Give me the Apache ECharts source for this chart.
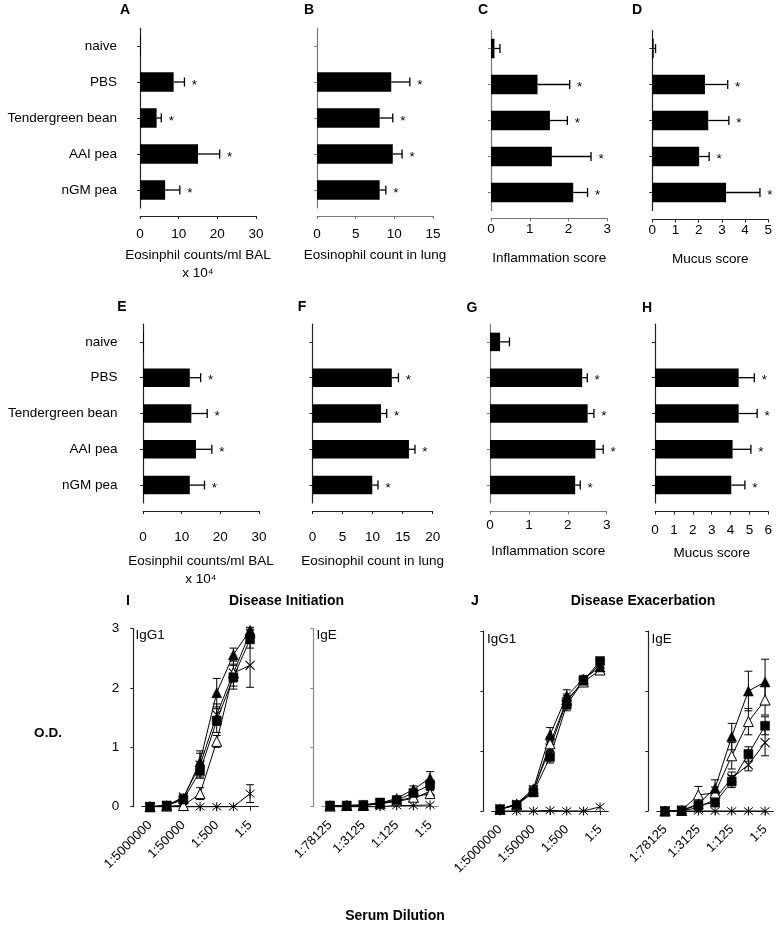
<!DOCTYPE html>
<html><head><meta charset="utf-8">
<script src="https://cdn.jsdelivr.net/npm/echarts@6/dist/echarts.min.js"></script>
<style>html,body{margin:0;padding:0;background:#fff}#c{width:780px;height:926px}</style>
</head><body><div id="c"></div>
<script>
const FONT = '"Liberation Sans", Arial, Helvetica, sans-serif';

// ---------- DATA ----------
const categories = ['naive', 'PBS', 'Tendergreen bean', 'AAI pea', 'nGM pea'];
const sigFlags = [0, 1, 1, 1, 1];

// Disease initiation (A-D)
const aMean = [0.25, 8.7, 4.3, 15.0, 6.5];
const aSem  = [0, 2.8, 1.2, 5.6, 3.8];
const bMean = [0, 9.6, 8.1, 9.8, 8.1];
const bSem  = [0, 2.4, 1.7, 1.2, 0.8];
const cMean = [0.09, 1.2, 1.52, 1.57, 2.12];
const cSem  = [0.14, 0.83, 0.45, 1.01, 0.37];
const dMean = [0.06, 2.27, 2.41, 2.02, 3.18];
const dSem  = [0.08, 0.98, 0.89, 0.43, 1.46];
// Disease exacerbation (E-H)
const eMean = [0.25, 12.1, 12.5, 13.7, 12.1];
const eSem  = [0, 2.8, 4.1, 4.1, 3.8];
const fMean = [0, 13.2, 11.4, 16.05, 9.95];
const fSem  = [0, 1.1, 0.95, 1.0, 0.95];
const gMean = [0.26, 2.37, 2.51, 2.71, 2.19];
const gSem  = [0.24, 0.13, 0.16, 0.2, 0.13];
const hMean = [0, 4.43, 4.43, 4.11, 4.04];
const hSem  = [0, 0.83, 0.98, 0.97, 0.72];

// Serum dilutions
const dilIgG1 = ['1:5000000', '1:500000', '1:50000', '1:5000', '1:500', '1:50', '1:5'];
const dilIgE  = ['1:78125', '1:15625', '1:3125', '1:625', '1:125', '1:25', '1:5'];
const odTicks = [0, 1, 2, 3];

// I: Disease initiation, IgG1
const iG1Square = [0, 0.02, 0.12, 0.60, 1.45, 2.18, 2.82];
const iG1SquareSem = [0, 0, 0.03, 0.12, 0.2, 0.2, 0.15];
const iG1TriFill = [0, 0.02, 0.14, 0.76, 1.92, 2.56, 2.97];
const iG1TriFillSem = [0, 0, 0.04, 0.18, 0.24, 0.11, 0.05];
const iG1TriOpen = [0, 0.01, 0.02, 0.22, 1.10, 2.25, 2.93];
const iG1TriOpenSem = [0, 0, 0.02, 0.1, 0.1, 0.15, 0.06];
const iG1Cross = [0, 0.02, 0.16, 0.70, 1.55, 2.25, 2.38];
const iG1CrossSem = [0, 0, 0.05, 0.2, 0.18, 0.22, 0.37];
const iG1Star = [0, 0, 0, 0, 0, 0, 0.22];
const iG1StarSem = [0, 0, 0, 0, 0, 0, 0.15];
// I: Disease initiation, IgE
const iESquare = [0.02, 0.02, 0.03, 0.07, 0.11, 0.23, 0.37];
const iESquareSem = [0, 0, 0, 0.02, 0.03, 0.05, 0.08];
const iETriFill = [0.02, 0.02, 0.03, 0.06, 0.14, 0.29, 0.48];
const iETriFillSem = [0, 0, 0, 0.02, 0.04, 0.06, 0.11];
const iETriOpen = [0.01, 0.02, 0.02, 0.05, 0.10, 0.16, 0.22];
const iETriOpenSem = [0, 0, 0, 0.02, 0.03, 0.04, 0.05];
const iECross = [0.01, 0.01, 0.02, 0.05, 0.09, 0.14, 0.26];
const iECrossSem = [0, 0, 0, 0.02, 0.03, 0.04, 0.05];
const iEStar = [0, 0, 0, 0, 0.02, 0.02, 0.03];
const iEStarSem = [0, 0, 0, 0, 0, 0, 0];
// J: Disease exacerbation, IgG1
const jG1Square = [0.03, 0.10, 0.31, 0.90, 1.77, 2.17, 2.50];
const jG1SquareSem = [0, 0.02, 0.04, 0.1, 0.1, 0.07, 0.05];
const jG1TriFill = [0.03, 0.12, 0.37, 1.27, 1.92, 2.20, 2.40];
const jG1TriFillSem = [0, 0.02, 0.05, 0.12, 0.1, 0.06, 0.05];
const jG1TriOpen = [0.03, 0.10, 0.33, 1.12, 1.85, 2.15, 2.35];
const jG1TriOpenSem = [0, 0.02, 0.04, 0.12, 0.1, 0.06, 0.05];
const jG1Cross = [0.03, 0.11, 0.35, 1.05, 1.82, 2.18, 2.45];
const jG1CrossSem = [0, 0.02, 0.04, 0.12, 0.1, 0.06, 0.05];
const jG1Star = [0, 0, 0, 0.01, 0, 0, 0.07];
const jG1StarSem = [0, 0, 0, 0, 0, 0, 0];
// J: Disease exacerbation, IgE
const jESquare = [0, 0.01, 0.10, 0.14, 0.49, 0.95, 1.42];
const jESquareSem = [0, 0, 0.03, 0.05, 0.1, 0.12, 0.15];
const jETriFill = [0, 0.01, 0.12, 0.38, 1.24, 2.0, 2.15];
const jETriFillSem = [0, 0, 0.04, 0.14, 0.22, 0.33, 0.38];
const jETriOpen = [0, 0.01, 0.27, 0.30, 0.92, 1.49, 1.85];
const jETriOpenSem = [0, 0, 0.14, 0.1, 0.22, 0.22, 0.25];
const jECross = [0, 0.01, 0.05, 0.20, 0.55, 0.77, 1.14];
const jECrossSem = [0, 0, 0.03, 0.05, 0.1, 0.1, 0.22];
const jEStar = [0, 0, 0, 0, 0, 0, 0];
const jEStarSem = [0, 0, 0, 0, 0, 0, 0];

// ---------- LAYOUT ----------
const barPanels = [
  {mean: aMean, sem: aSem, max: 30, interval: 10, left: 140, width: 116, top: 28, height: 180, yOff: 8, xOff: 8, color: '#222', lm: 11, name: 'Eosinphil counts/ml BAL\nx 10\u2074', ng: 30, cats: true, cm: 15, bw: 19.5},
  {mean: bMean, sem: bSem, max: 15, interval: 5, left: 317, width: 116, top: 28, height: 180, yOff: 11, xOff: 8, color: '#777', lm: 11, name: 'Eosinophil count in lung', ng: 30, cats: false, cm: 14, bw: 19.5},
  {mean: cMean, sem: cSem, max: 3, interval: 1, left: 491, width: 116.3, top: 30.5, height: 180, yOff: 9, xOff: 8, color: '#777', lm: 4, name: 'Inflammation score', ng: 31, cats: false, cm: 14, bw: 19.5},
  {mean: dMean, sem: dSem, max: 5, interval: 1, left: 652.3, width: 116, top: 30.5, height: 180, yOff: 8, xOff: 9, color: '#222', lm: 4, name: 'Mucus score', ng: 31, cats: false, cm: 14, bw: 19.5},
  {mean: eMean, sem: eSem, max: 30, interval: 10, left: 143, width: 116, top: 324, height: 179, yOff: 8, xOff: 8, color: '#222', lm: 19, name: 'Eosinphil counts/ml BAL\nx 10\u2074', ng: 41, cats: true, cm: 17.5, bw: 18.5},
  {mean: fMean, sem: fSem, max: 20, interval: 5, left: 312.5, width: 120.2, top: 324, height: 179, yOff: 7.5, xOff: 8, color: '#222', lm: 19, name: 'Eosinophil count in lung', ng: 41, cats: false, cm: 14, bw: 18.5},
  {mean: gMean, sem: gSem, max: 3, interval: 1, left: 490, width: 116.7, top: 324, height: 179, yOff: 8, xOff: 8.5, color: '#777', lm: 7, name: 'Inflammation score', ng: 31, cats: false, cm: 14, bw: 18.5},
  {mean: hMean, sem: hSem, max: 6, interval: 1, left: 655, width: 113.3, top: 324, height: 179, yOff: 9, xOff: 8.5, color: '#222', lm: 12, name: 'Mucus score', ng: 33, cats: false, cm: 14, bw: 18.5}
];

const markerDefs = {
  star:    {symbol: 'path://M0,1L10,9M10,1L0,9M5,0L5,10', size: 9, fill: 'rgba(0,0,0,0)', bw: 1},
  cross:   {symbol: 'path://M0,0L10,10M10,0L0,10', size: 9, fill: 'rgba(0,0,0,0)', bw: 1.1},
  triOpen: {symbol: 'triangle', size: 10, fill: '#fff', bw: 1},
  triFill: {symbol: 'triangle', size: 10, fill: '#000', bw: 0.5},
  square:  {symbol: 'rect', size: 9, fill: '#000', bw: 0.5}
};

const linePanels = [
  {cats: dilIgG1, left: 141.7, width: 116.7, top: 628.5, height: 178.2, yOff: 8.4, xOff: 8.3, labels: true, color: '#222',
   series: {star: [iG1Star, iG1StarSem], cross: [iG1Cross, iG1CrossSem], triOpen: [iG1TriOpen, iG1TriOpenSem], triFill: [iG1TriFill, iG1TriFillSem], square: [iG1Square, iG1SquareSem]}},
  {cats: dilIgE, left: 321.7, width: 116.7, top: 628.5, height: 178.2, yOff: 8.4, xOff: 8.3, labels: false, color: '#888',
   series: {star: [iEStar, iEStarSem], cross: [iECross, iECrossSem], triOpen: [iETriOpen, iETriOpenSem], triFill: [iETriFill, iETriFillSem], square: [iESquare, iESquareSem]}},
  {cats: dilIgG1, left: 491.7, width: 116.7, top: 631, height: 180, yOff: 8.3, xOff: 8.3, labels: false, color: '#222',
   series: {star: [jG1Star, jG1StarSem], cross: [jG1Cross, jG1CrossSem], triOpen: [jG1TriOpen, jG1TriOpenSem], triFill: [jG1TriFill, jG1TriFillSem], square: [jG1Square, jG1SquareSem]}},
  {cats: dilIgE, left: 656.7, width: 116.7, top: 631, height: 180, yOff: 8.4, xOff: 8.3, labels: false, color: '#222',
   series: {star: [jEStar, jEStarSem], cross: [jECross, jECrossSem], triOpen: [jETriOpen, jETriOpenSem], triFill: [jETriFill, jETriFillSem], square: [jESquare, jESquareSem]}}
];

// ---------- RENDER HELPERS ----------
function errH(params, api) {
  const v = api.value(0), s = api.value(1), k = api.value(2), sig = api.value(3);
  const a = api.coord([v, k]), b = api.coord([v + s, k]);
  const ch = [];
  const st = {stroke: '#000', lineWidth: 1.3};
  if (s > 0) {
    ch.push({type: 'line', shape: {x1: a[0], y1: a[1], x2: b[0], y2: b[1]}, style: st});
    ch.push({type: 'line', shape: {x1: b[0], y1: b[1] - 4.5, x2: b[0], y2: b[1] + 4.5}, style: st});
  }
  if (sig) ch.push({type: 'text', x: b[0] + 10, y: b[1] + 3,
    style: {text: '*', fill: '#000', font: '13.5px ' + FONT, align: 'center', verticalAlign: 'middle'}});
  return {type: 'group', children: ch};
}
function errV(params, api) {
  const k = api.value(0), m = api.value(1), s = api.value(2);
  const lo = api.coord([k, Math.max(0, m - s)]), hi = api.coord([k, m + s]);
  const st = {stroke: '#000', lineWidth: 1};
  const w = 4;
  return {type: 'group', children: [
    {type: 'line', shape: {x1: lo[0], y1: lo[1], x2: hi[0], y2: hi[1]}, style: st},
    {type: 'line', shape: {x1: lo[0] - w, y1: lo[1], x2: lo[0] + w, y2: lo[1]}, style: st},
    {type: 'line', shape: {x1: hi[0] - w, y1: hi[1], x2: hi[0] + w, y2: hi[1]}, style: st}
  ]};
}

const grid = [], xAxis = [], yAxis = [], series = [];
const txt = {fontFamily: FONT, fontSize: 13.5, color: '#000'};

barPanels.forEach((p, i) => {
  grid.push({left: p.left, top: p.top, width: p.width, height: p.height});
  xAxis.push({gridIndex: i, type: 'value', min: 0, max: p.max, interval: p.interval, offset: p.xOff,
    axisLine: {show: true, lineStyle: {color: p.color, width: 1}},
    axisTick: {show: true, length: 3, lineStyle: {color: p.color}},
    splitLine: {show: false},
    axisLabel: Object.assign({margin: p.lm}, txt),
    name: p.name, nameLocation: 'middle', nameGap: p.ng,
    nameTextStyle: Object.assign({lineHeight: 18}, txt)});
  yAxis.push({gridIndex: i, type: 'category', data: categories, inverse: true, offset: p.yOff,
    axisLine: {show: true, lineStyle: {color: p.color, width: 1.2}},
    axisTick: {show: true, length: 3, alignWithLabel: true, lineStyle: {color: p.color}},
    axisLabel: Object.assign({show: p.cats, margin: p.cm}, txt)});
  series.push({type: 'bar', xAxisIndex: i, yAxisIndex: i, data: p.mean, barWidth: p.bw,
    itemStyle: {color: '#000'}, silent: true, animation: false});
  series.push({type: 'custom', xAxisIndex: i, yAxisIndex: i, renderItem: errH,
    encode: {x: [0, 1], y: 2}, z: 3, silent: true, animation: false,
    data: p.mean.map((m, k) => [m, p.sem[k], k, sigFlags[k]])});
});

linePanels.forEach((p, j) => {
  const i = barPanels.length + j;
  grid.push({left: p.left, top: p.top, width: p.width, height: p.height});
  xAxis.push({gridIndex: i, type: 'category', data: p.cats, offset: p.xOff, boundaryGap: true,
    axisLine: {show: true, lineStyle: {color: p.color, width: 1}},
    axisTick: {show: true, length: 4, alignWithLabel: true, interval: 0, lineStyle: {color: p.color}},
    axisLabel: Object.assign({interval: 1, rotate: 45, margin: 8}, txt, {fontSize: 13})});
  yAxis.push({gridIndex: i, type: 'value', min: odTicks[0], max: odTicks[odTicks.length - 1], interval: 1, offset: p.yOff,
    axisLine: {show: true, lineStyle: {color: p.color, width: 1.2}},
    axisTick: {show: true, length: 3, lineStyle: {color: p.color}},
    splitLine: {show: false},
    axisLabel: Object.assign({show: p.labels, margin: 14}, txt)});
  Object.keys(markerDefs).forEach((key) => {
    const md = markerDefs[key];
    const [vals, sems] = p.series[key];
    const errData = [];
    vals.forEach((v, k) => { if (sems[k] > 0) errData.push([k, v, sems[k]]); });
    series.push({type: 'custom', xAxisIndex: i, yAxisIndex: i, renderItem: errV,
      encode: {x: 0, y: [1, 2]}, z: 2, silent: true, animation: false, data: errData});
    series.push({type: 'line', xAxisIndex: i, yAxisIndex: i, data: vals, z: 3,
      symbol: md.symbol, symbolSize: md.size, symbolKeepAspect: true, showAllSymbol: true, clip: false,
      lineStyle: {color: '#000', width: 1},
      itemStyle: {color: md.fill, borderColor: '#000', borderWidth: md.bw},
      silent: true, animation: false});
  });
});

function T(text, x, y, opt) {
  return Object.assign({type: 'text', x: x, y: y,
    style: {text: text, fill: '#000', font: (opt && opt.font) || ('bold 14px ' + FONT),
      align: (opt && opt.align) || 'center', verticalAlign: 'middle'}});
}
const graphic = [
  T('A', 125, 10), T('B', 309, 10), T('C', 483, 10), T('D', 637, 10),
  T('E', 122, 307), T('F', 302, 307), T('G', 472, 308), T('H', 647, 308),
  T('I', 128, 601), T('J', 475, 601),
  T('Disease Initiation', 286.5, 601), T('Disease Exacerbation', 643, 601),
  T('IgG1', 135.5, 635.5, {font: '13.5px ' + FONT, align: 'left'}),
  T('IgE', 316.5, 635, {font: '13.5px ' + FONT, align: 'left'}),
  T('IgG1', 487, 639.5, {font: '13.5px ' + FONT, align: 'left'}),
  T('IgE', 651.5, 639, {font: '13.5px ' + FONT, align: 'left'}),
  T('O.D.', 48, 733, {font: 'bold 13.5px ' + FONT}),
  T('Serum Dilution', 395, 916, {font: 'bold 14px ' + FONT})
];

const chart = echarts.init(document.getElementById('c'), null, {renderer: 'canvas'});
chart.setOption({backgroundColor: '#fff', animation: false, grid, xAxis, yAxis, series, graphic});
</script></body></html>
